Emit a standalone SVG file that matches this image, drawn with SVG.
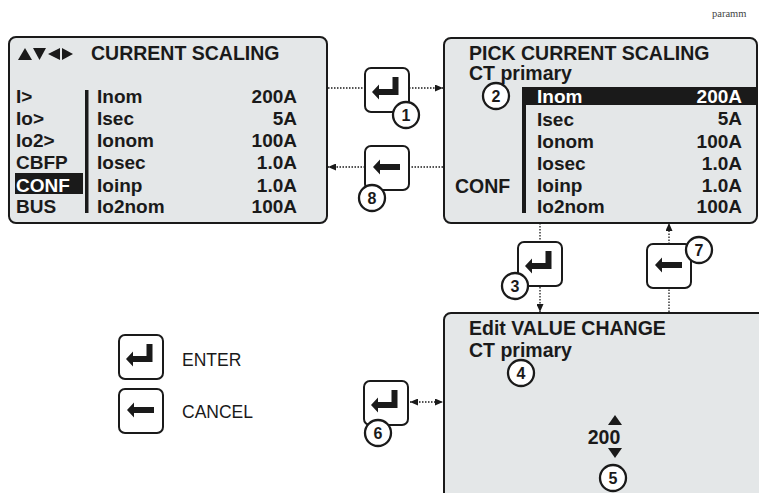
<svg xmlns="http://www.w3.org/2000/svg" xmlns:xlink="http://www.w3.org/1999/xlink" width="759" height="493" viewBox="0 0 759 493">
<style>
.panel{fill:#e4e7e8;stroke:#1a1a1a;stroke-width:2}
.t{font-family:"Liberation Sans",Arial,sans-serif;font-weight:bold;fill:#1a1a1a}
.title{font-size:19.5px}
.row{font-size:19px}
.val{font-size:19px;text-anchor:end}
.w{fill:#fff}
.btn{fill:#fff;stroke:#1a1a1a;stroke-width:2}
.num circle{fill:#fff;stroke:#1a1a1a;stroke-width:2.3}
.num text{font-family:"Liberation Sans",Arial,sans-serif;font-weight:bold;font-size:16px;text-anchor:middle;fill:#1a1a1a}
.dot{stroke:#1a1a1a;stroke-width:1.3;stroke-dasharray:1.5 1.5;fill:none}
.leg{font-family:"Liberation Sans",Arial,sans-serif;font-size:17.5px;fill:#1a1a1a}
</style>
<defs>
<marker id="ah" markerWidth="8" markerHeight="7" refX="8" refY="3.5" orient="auto-start-reverse" markerUnits="userSpaceOnUse">
<path d="M0,0 L8,3.5 L0,7 z" fill="#1a1a1a"/>
</marker>
<g id="enterBtn">
<rect class="btn" x="0" y="0" width="44" height="44" rx="6"/>
<polygon points="7,24 14,16.5 14,21 27.5,21 27.5,9 33.5,9 33.5,27 14,27 14,31.5" fill="#1a1a1a"/>
</g>
<g id="cancelBtn">
<rect class="btn" x="0" y="0" width="44" height="44" rx="6"/>
<polygon points="8,21 15,13.5 15,18 35,18 35,24 15,24 15,28.5" fill="#1a1a1a"/>
</g>
</defs>

<text x="712" y="17" font-family="'Liberation Serif',serif" font-size="10.5" fill="#444">paramm</text>

<g id="panel-current-scaling">
<rect class="panel" x="9" y="37" width="318" height="186" rx="7"/>
<polygon points="18,60 25,48 32,60" fill="#1a1a1a"/>
<polygon points="33,48 46,48 39.5,60" fill="#1a1a1a"/>
<polygon points="60,48 60,60 48,54" fill="#1a1a1a"/>
<polygon points="62,48 62,60 73,54" fill="#1a1a1a"/>
<text class="t title" x="91" y="60">CURRENT SCALING</text>
<rect x="15" y="173" width="68" height="21" fill="#1a1a1a"/>
<rect x="85" y="90" width="3.5" height="123" fill="#1a1a1a"/>
<text class="t row" x="16" y="103">I&gt;</text>
<text class="t row" x="16" y="125">Io&gt;</text>
<text class="t row" x="16" y="147">Io2&gt;</text>
<text class="t row" x="16" y="169">CBFP</text>
<text class="t row w" x="16" y="192">CONF</text>
<text class="t row" x="16" y="213">BUS</text>
<text class="t row" x="97" y="103">Inom</text>
<text class="t row" x="97" y="125">Isec</text>
<text class="t row" x="97" y="147">Ionom</text>
<text class="t row" x="97" y="169">Iosec</text>
<text class="t row" x="97" y="192">Ioinp</text>
<text class="t row" x="97" y="213">Io2nom</text>
<text class="t val" x="297" y="103">200A</text>
<text class="t val" x="297" y="125">5A</text>
<text class="t val" x="297" y="147">100A</text>
<text class="t val" x="297" y="169">1.0A</text>
<text class="t val" x="297" y="192">1.0A</text>
<text class="t val" x="297" y="213">100A</text>
</g>

<g id="panel-pick-current-scaling">
<rect class="panel" x="444" y="38" width="313" height="185" rx="7"/>
<text class="t title" x="469" y="60">PICK CURRENT SCALING</text>
<text class="t title" x="469" y="80">CT primary</text>
<rect x="522" y="87" width="235" height="18" fill="#1a1a1a"/>
<rect x="522" y="87" width="4" height="126" fill="#1a1a1a"/>
<text class="t title" x="455" y="193">CONF</text>
<text class="t row w" x="537" y="103">Inom</text>
<text class="t row" x="537" y="126">Isec</text>
<text class="t row" x="537" y="148">Ionom</text>
<text class="t row" x="537" y="170">Iosec</text>
<text class="t row" x="537" y="192">Ioinp</text>
<text class="t row" x="537" y="213">Io2nom</text>
<text class="t val w" x="742" y="103">200A</text>
<text class="t val" x="742" y="125">5A</text>
<text class="t val" x="742" y="148">100A</text>
<text class="t val" x="742" y="170">1.0A</text>
<text class="t val" x="742" y="192">1.0A</text>
<text class="t val" x="742" y="213">100A</text>
</g>

<g id="panel-edit-value">
<rect class="panel" x="444" y="313" width="340" height="200" rx="7"/>
<text class="t title" x="469" y="335">Edit VALUE CHANGE</text>
<text class="t title" x="469" y="357">CT primary</text>
<polygon points="608,425 615,415 622,425" fill="#1a1a1a"/>
<text class="t title" x="604" y="444" text-anchor="middle">200</text>
<polygon points="608,448 622,448 615,458" fill="#1a1a1a"/>
</g>

<g id="connectors">
<line class="dot" x1="328" y1="88" x2="365" y2="88"/>
<line class="dot" x1="409" y1="88" x2="443" y2="88" marker-end="url(#ah)"/>
<line class="dot" x1="443" y1="167" x2="409" y2="167"/>
<line class="dot" x1="365" y1="167" x2="328" y2="167" marker-end="url(#ah)"/>
<line class="dot" x1="540" y1="223" x2="540" y2="242"/>
<line class="dot" x1="540" y1="287" x2="540" y2="312" marker-end="url(#ah)"/>
<line class="dot" x1="669" y1="312" x2="669" y2="288"/>
<line class="dot" x1="669" y1="244" x2="669" y2="223" marker-end="url(#ah)"/>
<line class="dot" x1="410" y1="402" x2="443" y2="402" marker-start="url(#ah)" marker-end="url(#ah)"/>
</g>

<g id="btn-1">
<use xlink:href="#enterBtn" x="365" y="68"/>
<g class="num"><circle cx="406" cy="115" r="13"/><text x="406" y="120.5">1</text></g>
</g>
<g id="btn-8">
<use xlink:href="#cancelBtn" x="365" y="146"/>
<g class="num"><circle cx="372" cy="198" r="13"/><text x="372" y="203.5">8</text></g>
</g>
<g id="btn-3">
<use xlink:href="#enterBtn" x="518" y="242"/>
<g class="num"><circle cx="515" cy="286" r="13"/><text x="515" y="291.5">3</text></g>
</g>
<g id="btn-7">
<use xlink:href="#cancelBtn" x="647" y="244"/>
<g class="num"><circle cx="699" cy="250" r="13"/><text x="699" y="255.5">7</text></g>
</g>
<g id="btn-6">
<use xlink:href="#enterBtn" x="364" y="381"/>
<g class="num"><circle cx="378" cy="433" r="13"/><text x="378" y="438.5">6</text></g>
</g>
<g id="marker-2" class="num"><circle cx="496" cy="96" r="13"/><text x="496" y="101.5">2</text></g>
<g id="marker-4" class="num"><circle cx="521" cy="373" r="13"/><text x="521" y="378.5">4</text></g>
<g id="marker-5" class="num"><circle cx="613" cy="478" r="13"/><text x="613" y="483.5">5</text></g>

<g id="legend-enter">
<use xlink:href="#enterBtn" x="119" y="335"/>
<text class="leg" x="182" y="366">ENTER</text>
</g>
<g id="legend-cancel">
<use xlink:href="#cancelBtn" x="119" y="389"/>
<text class="leg" x="182" y="418">CANCEL</text>
</g>
</svg>
